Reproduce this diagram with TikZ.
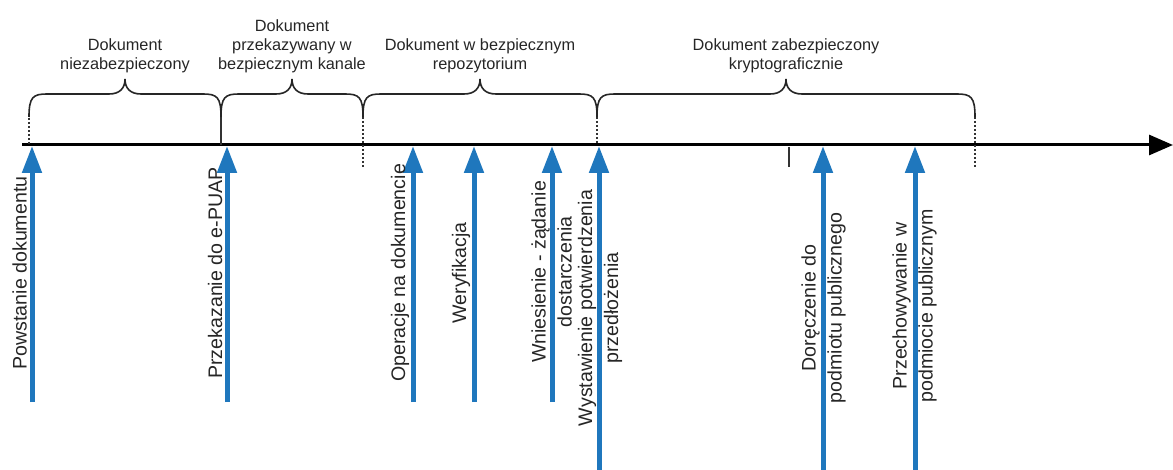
\documentclass[tikz,border=0pt]{standalone}
\usepackage{fontspec}
\setmainfont{Liberation Sans}
\usetikzlibrary{arrows.meta, positioning}
\definecolor{eventblue}{RGB}{31,119,189}
\tikzstyle{phase} = [
    align=center,
    inner sep=0pt,
    font=\fontsize{16.3}{19}\selectfont,
    text=black!85
]
\tikzstyle{event} = [
    rotate=90,
    align=center,
    inner sep=0pt,
    font=\fontsize{19.6}{26}\selectfont,
    text=black!85
]
\tikzstyle{timeline} = [line width=3pt, -{Triangle[length=24pt,width=20pt]}]
\tikzstyle{eventarrow} = [line width=5pt, draw=eventblue, -{Triangle[length=27pt,width=19pt]}]
\tikzstyle{phasebrace} = [line width=1.6pt, draw=black!85]
\tikzstyle{tickline} = [line width=1.2pt, draw=black!80]
\tikzstyle{dashtick} = [tickline, dash pattern=on 2.5pt off 1.5pt]

\begin{document}
\begin{tikzpicture}[x=1pt, y=-1pt]
\useasboundingbox (0,0) rectangle (1173,470);

% time axis
\coordinate (t0) at (22,145);
\coordinate (t1) at (1173,145);
\draw [timeline] (t0) -- (t1);

% phase boundaries
\draw [dashtick] (29,114) -- (29,145);
\draw [tickline] (221,117) -- (221,145);
\draw [dashtick] (363,117) -- (363,168);
\draw [dashtick] (597,117) -- (597,145);
\draw [dashtick] (975,117) -- (975,168);
\draw [tickline] (789,147) -- (789,167);

% braces
\draw [phasebrace] (29,117) .. controls (29,97) and (33,94) .. (47,94)
    -- (109,94) .. controls (120,94) and (125,88) .. (125,79)
    .. controls (125,88) and (130,94) .. (141,94)
    -- (203,94) .. controls (217,94) and (221,97) .. (221,117);
\draw [phasebrace] (221,117) .. controls (221,97) and (225,94) .. (239,94)
    -- (276,94) .. controls (287,94) and (292,88) .. (292,79)
    .. controls (292,88) and (297,94) .. (308,94)
    -- (345,94) .. controls (359,94) and (363,97) .. (363,117);
\draw [phasebrace] (363,117) .. controls (363,97) and (367,94) .. (381,94)
    -- (464,94) .. controls (475,94) and (480,88) .. (480,79)
    .. controls (480,88) and (485,94) .. (496,94)
    -- (579,94) .. controls (593,94) and (597,97) .. (597,117);
\draw [phasebrace] (597,117) .. controls (597,97) and (601,94) .. (615,94)
    -- (770,94) .. controls (781,94) and (786,88) .. (786,79)
    .. controls (786,88) and (791,94) .. (802,94)
    -- (957,94) .. controls (971,94) and (975,97) .. (975,117);

\coordinate (tipA) at (125,79);
\coordinate (tipB) at (292,79);
\coordinate (tipC) at (480,79);
\coordinate (tipD) at (786,79);

\node (unsafe) [phase, above=6pt of tipA] {Dokument\\niezabezpieczony};
\node (channel) [phase, above=6pt of tipB] {Dokument\\przekazywany w\\bezpiecznym kanale};
\node (repo) [phase, above=6pt of tipC] {Dokument w bezpiecznym\\repozytorium};
\node (crypto) [phase, above=6pt of tipD] {Dokument zabezpieczony\\kryptograficznie};

% events
\coordinate (create0) at (32,402);
\coordinate (create1) at (32,146);
\coordinate (transfer0) at (227,402);
\coordinate (transfer1) at (227,146);
\coordinate (ops0) at (413,402);
\coordinate (ops1) at (413,146);
\coordinate (verify0) at (474,402);
\coordinate (verify1) at (474,146);
\coordinate (submit0) at (552,402);
\coordinate (submit1) at (552,146);
\coordinate (confirm0) at (599,470);
\coordinate (confirm1) at (599,146);
\coordinate (deliver0) at (823,470);
\coordinate (deliver1) at (823,146);
\coordinate (store0) at (915,470);
\coordinate (store1) at (915,146);

\draw [eventarrow] (create0) -- (create1);
\draw [eventarrow] (transfer0) -- (transfer1);
\draw [eventarrow] (ops0) -- (ops1);
\draw [eventarrow] (verify0) -- (verify1);
\draw [eventarrow] (submit0) -- (submit1);
\draw [eventarrow] (confirm0) -- (confirm1);
\draw [eventarrow] (deliver0) -- (deliver1);
\draw [eventarrow] (store0) -- (store1);

\node (create) [event] at (19.5,273) {Powstanie dokumentu};
\node (transfer) [event] at (215,273) {Przekazanie do e-PUAP};
\node (ops) [event] at (400,273) {Operacje na dokumencie};
\node (verify) [event] at (461,273) {Weryfikacja};
\node (submit) [event] at (551.5,272) {Wniesienie - żądanie\\dostarczenia};
\node (confirm) [event] at (600,308) {Wystawienie potwierdzenia\\przedłożenia};
\node (deliver) [event] at (823.5,308) {Doręczenie do\\podmiotu publicznego};
\node (store) [event] at (914.5,306) {Przechowywanie w\\podmiocie publicznym};

\end{tikzpicture}
\end{document}
